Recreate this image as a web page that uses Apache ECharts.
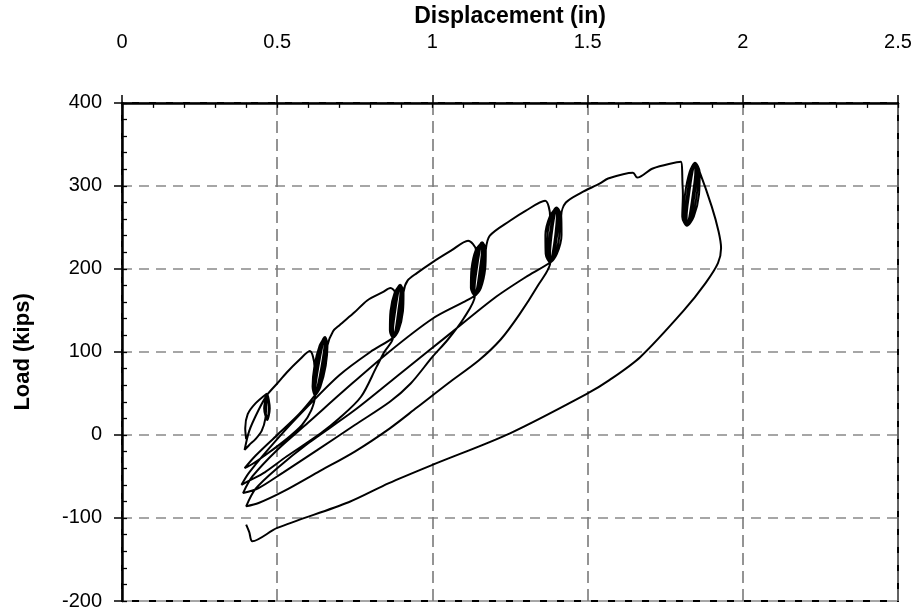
<!DOCTYPE html>
<html>
<head>
<meta charset="utf-8">
<script src="https://cdn.jsdelivr.net/npm/echarts@6/dist/echarts.min.js"></script>
<style>
html,body{margin:0;padding:0;background:#fff;}
#main{width:924px;height:615px;}
</style>
</head>
<body>
<div id="main"></div>
<script>
// tick labels
var xTicks = [0, 0.5, 1, 1.5, 2, 2.5];
var yTicks = [-200, -100, 0, 100, 200, 300, 400];

// load path, [displacement (in), load (kips)]
var envelope1 = [[0.400,-5],[0.397,8],[0.405,25],[0.43,38],[0.467,50]];
var loop1 = [[0.458,32],[0.468,18],[0.476,32],[0.468,49],[0.461,32],[0.469,19],[0.473,34],[0.467,46]];
var unload1 = [[0.462,20],[0.45,5],[0.43,-5],[0.41,-12],[0.395,-18]];
var reload1 = [[0.41,5],[0.44,30],[0.467,48],[0.50,62],[0.53,75],[0.57,90],[0.605,101]];
// small cycles at 0.63 in
var loop2 = [[0.620,83],[0.614,58],[0.622,48],[0.639,58],[0.656,83],[0.662,108],[0.654,118],
    [0.640,108],[0.625,83],[0.617,58],[0.622,48],[0.636,58],[0.651,83],[0.659,108],[0.654,118],
    [0.643,108],[0.629,83],[0.620,58],[0.622,48],[0.633,58],[0.647,83],[0.656,108],[0.654,118],
    [0.646,108],[0.633,83],[0.623,58],[0.622,48],[0.630,58],[0.643,83],[0.653,108],[0.654,118],
    [0.637,108],[0.620,83],[0.614,58],[0.622,48]];
var unload2 = [[0.61,30],[0.58,12],[0.53,-5],[0.47,-22],[0.42,-35],[0.395,-40]];
var reload2 = [[0.43,-25],[0.50,0],[0.57,25],[0.622,48],[0.639,58],[0.656,83],[0.662,108],[0.68,125],
    [0.70,132],[0.75,148],[0.79,162],[0.84,172],[0.865,177]];
// small cycles at 0.88 in
var loop3 = [[0.879,172],[0.865,149],[0.863,126],[0.873,117],[0.891,126],[0.905,149],[0.907,172],[0.896,181],
    [0.882,172],[0.870,149],[0.866,126],[0.873,117],[0.888,126],[0.900,149],[0.904,172],[0.896,181],
    [0.886,172],[0.875,149],[0.870,126],[0.873,117],[0.884,126],[0.895,149],[0.900,172],[0.896,181],
    [0.890,172],[0.880,149],[0.873,126],[0.873,117],[0.881,126],[0.890,149],[0.897,172],[0.896,181],
    [0.879,172],[0.865,149],[0.863,126],[0.873,117]];
var unload3 = [[0.845,100],[0.82,82],[0.77,46],[0.70,20],[0.64,2],[0.53,-26],[0.46,-45],[0.41,-55],
    [0.385,-60]];
var reload3 = [[0.41,-45],[0.50,-5],[0.60,35],[0.70,72],[0.80,100],[0.873,117],[0.891,126],[0.905,149],
    [0.907,172],[0.92,186],[0.95,195],[1.0,208],[1.06,222],[1.115,234]];
// small cycles at 1.15 in
var loop4 = [[1.140,223],[1.126,200],[1.124,177],[1.137,168],[1.156,177],[1.170,200],[1.172,223],[1.160,232],
    [1.145,223],[1.132,200],[1.129,177],[1.137,168],[1.151,177],[1.164,200],[1.167,223],[1.160,232],
    [1.148,223],[1.137,200],[1.132,177],[1.137,168],[1.148,177],[1.159,200],[1.164,223],[1.160,232],
    [1.153,223],[1.143,200],[1.136,177],[1.137,168],[1.144,177],[1.153,200],[1.160,223],[1.160,232],
    [1.140,223],[1.126,200],[1.124,177],[1.137,168]];
var unload4 = [[1.10,140],[1.05,115],[1.0,94],[0.93,62],[0.863,40],[0.75,12],[0.63,-18],[0.52,-45],
    [0.44,-64],[0.39,-70]];
var reload4 = [[0.42,-50],[0.50,-18],[0.60,15],[0.72,55],[0.86,100],[1.0,140],[1.10,160],[1.137,168],
    [1.156,177],[1.170,200],[1.172,223],[1.185,240],[1.25,258],[1.30,270],[1.363,282]];
// small cycles at 1.39 in
var loop5 = [[1.379,264],[1.364,241],[1.365,218],[1.380,208],[1.401,218],[1.416,241],[1.415,264],[1.400,274],
    [1.384,264],[1.371,241],[1.370,218],[1.380,208],[1.396,218],[1.409,241],[1.410,264],[1.400,274],
    [1.389,264],[1.378,241],[1.374,218],[1.380,208],[1.391,218],[1.402,241],[1.406,264],[1.400,274],
    [1.393,264],[1.384,241],[1.379,218],[1.380,208],[1.387,218],[1.396,241],[1.401,264],[1.400,274],
    [1.379,264],[1.364,241],[1.365,218],[1.380,208]];
var unload5 = [[1.34,180],[1.28,145],[1.22,115],[1.15,90],[1.05,62],[0.95,33],[0.863,8],[0.75,-20],
    [0.63,-45],[0.52,-68],[0.44,-82],[0.40,-86]];
var reload5 = [[0.43,-65],[0.50,-40],[0.60,-10],[0.75,30],[0.90,75],[1.05,120],[1.20,165],[1.30,190],
    [1.380,208],[1.401,218],[1.416,241],[1.415,264],[1.43,280],[1.48,292],[1.54,303],[1.566,309],[1.646,316],
    [1.66,310],[1.71,321],[1.80,329],[1.806,300]];
// small cycles at 1.83 in
var loop6 = [[1.807,290],[1.805,263],[1.820,252],[1.842,263],[1.859,290],[1.861,317],[1.846,328],
    [1.829,317],[1.814,290],[1.810,263],[1.820,252],[1.837,263],[1.852,290],[1.856,317],[1.846,328],
    [1.834,317],[1.821,290],[1.815,263],[1.820,252],[1.832,263],[1.845,290],[1.851,317],[1.846,328],
    [1.838,317],[1.827,290],[1.819,263],[1.820,252],[1.828,263],[1.839,290],[1.847,317],[1.846,328],
    [1.861,317]];
var unloadFinal = [[1.90,275],[1.922,245],[1.93,225],[1.92,207],[1.88,183],[1.81,150],[1.67,94],[1.57,66],
    [1.5,50],[1.25,2],[1.0,-36],[0.86,-58],[0.73,-81],[0.5,-112],[0.42,-128],[0.41,-117],[0.40,-108]];

var loadPath = [].concat(envelope1, loop1, unload1, reload1, loop2, unload2, reload2, loop3, unload3,
    reload3, loop4, unload4, reload4, loop5, unload5, reload5, loop6, unloadFinal);

var labelFont = {color:'#000', fontFamily:'Liberation Sans', fontSize:20};

var chart = echarts.init(document.getElementById('main'), null, {renderer:'canvas'});
var option = {
    animation:false,
    backgroundColor:'#fff',
    grid:{
        left:122, right:26, top:102, bottom:14,
        show:true, borderColor:'#000', borderWidth:2, backgroundColor:'#fff'
    },
    xAxis:[{
        type:'value', position:'top',
        min:xTicks[0], max:xTicks[xTicks.length-1], interval:0.5,
        name:'Displacement (in)', nameLocation:'middle', nameGap:66,
        nameTextStyle:{color:'#000', fontFamily:'Liberation Sans', fontSize:23, fontWeight:'bold'},
        axisLine:{show:true, onZero:false, lineStyle:{color:'#000', width:2.5}},
        axisTick:{show:true, inside:false, length:8, lineStyle:{color:'#000', width:1.5}},
        axisLabel:Object.assign({margin:50}, labelFont),
        splitLine:{show:true, lineStyle:{color:'#7a7a7a', width:1.6, type:[12,6]}}
    },{
        // second copy only for the inner minor ticks
        type:'value', position:'top',
        min:xTicks[0], max:xTicks[xTicks.length-1], interval:0.5,
        axisLine:{show:false, onZero:false},
        axisTick:{show:true, inside:true, length:5, lineStyle:{color:'#000', width:1.3}},
        minorTick:{show:true, splitNumber:5, length:5, lineStyle:{color:'#000', width:1.3}},
        axisLabel:{show:false},
        splitLine:{show:false}
    }],
    yAxis:[{
        type:'value', position:'left',
        min:yTicks[0], max:yTicks[yTicks.length-1], interval:100,
        name:'Load (kips)', nameLocation:'middle', nameGap:88, nameRotate:90,
        nameTextStyle:{color:'#000', fontFamily:'Liberation Sans', fontSize:22, fontWeight:'bold'},
        axisLine:{show:true, onZero:false, lineStyle:{color:'#000', width:2.5}},
        axisTick:{show:true, inside:false, length:8, lineStyle:{color:'#000', width:1.5}},
        axisLabel:Object.assign({margin:20}, labelFont),
        splitLine:{show:true, lineStyle:{color:'#a6a6a6', width:1.8, type:[10,7]}}
    },{
        type:'value', position:'left',
        min:yTicks[0], max:yTicks[yTicks.length-1], interval:100,
        axisLine:{show:false, onZero:false},
        axisTick:{show:true, inside:true, length:5, lineStyle:{color:'#000', width:1.3}},
        minorTick:{show:true, splitNumber:5, length:5, lineStyle:{color:'#000', width:1.3}},
        axisLabel:{show:false},
        splitLine:{show:false}
    }],
    series:[{
        name:'Load', type:'line',
        xAxisIndex:0, yAxisIndex:0,
        data:loadPath,
        showSymbol:false, smooth:0.3,
        lineStyle:{color:'#000', width:2},
        z:5
    }]
};
chart.setOption(option);
</script>
</body>
</html>
